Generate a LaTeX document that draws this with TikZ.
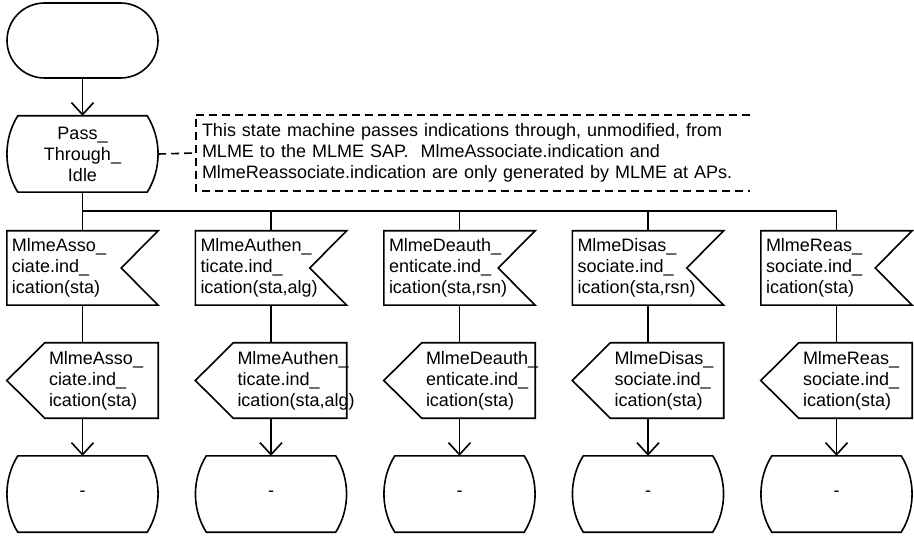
\documentclass[tikz,border=0pt]{standalone}
\usepackage{fontspec}
\setmainfont{Liberation Sans}
\usetikzlibrary{arrows.meta}
\tikzset{
  every picture/.style={
    >={Straight Barb[length=12pt,width=22pt]},   % open SDL arrow tip
  },
  sdl/.style={line width=1.6pt},
  sdltext/.style={font=\fontsize{18}{21}\selectfont},
  startbox/.style={sdl, draw, rectangle, rounded corners=37.5pt,
    minimum width=151pt, minimum height=75pt},
  statebox/.style={sdltext, align=center, inner sep=0pt,
    minimum width=151pt, minimum height=76pt},
  inbox/.style={sdltext, align=left, text width=141pt,
    inner xsep=5pt, inner ysep=0pt, minimum height=74pt},
  outbox/.style={inner sep=0pt, minimum width=151pt, minimum height=75pt},
  outtext/.style={sdltext, align=left, inner sep=0pt, anchor=west},
  notebox/.style={sdltext, align=left, text width=542pt,
    inner xsep=6pt, inner ysep=0pt, minimum height=76pt},
  notedash/.style={sdl, dash pattern=on 8pt off 5pt},
}
% state symbol: flat top and bottom, bulging sides
\newcommand{\stateoutline}[1]{%
  \draw[sdl] ([xshift=11pt]#1.north west) -- ([xshift=-11pt]#1.north east)
    .. controls ([xshift=3.5pt,yshift=-23pt]#1.north east)
    and ([xshift=3.5pt,yshift=23pt]#1.south east) .. ([xshift=-11pt]#1.south east)
    -- ([xshift=11pt]#1.south west)
    .. controls ([xshift=-3.5pt,yshift=23pt]#1.south west)
    and ([xshift=-3.5pt,yshift=-23pt]#1.north west) .. cycle;}

\begin{document}
\begin{tikzpicture}[x=1pt, y=-1pt]
    \useasboundingbox (0,0) rectangle (914,540);

    % Start and idle state
    \node[startbox] (start) at (82.5,40.5) {};
    \node[statebox] (idle) at (82.5,154) {Pass\_\\Through\_\\Idle};
    \stateoutline{idle}
    \draw[sdl, ->] (start) -- (idle);

    % Comment
    \node[notebox] (note) at (473,153) {This state machine passes indications through, unmodified, from\\
      MLME to the MLME SAP.\ \ MlmeAssociate.indication and\\
      MlmeReassociate.indication are only generated by MLME at APs.};
    \draw[notedash] (note.north east) -- (note.north west) -- (note.south west) -- (note.south east);
    \draw[notedash] (idle.east) -- (note.west);

    % Branches: input, output, next state
    \foreach \i/\x/\first/\second/\inlast/\outlast in {
        1/82.5/MlmeAsso\_/ciate.ind\_/{ication(sta)}/{ication(sta)},
        2/271/MlmeAuthen\_/ticate.ind\_/{ication(sta,alg)}/{ication(sta,alg)},
        3/459.5/MlmeDeauth\_/enticate.ind\_/{ication(sta,rsn)}/{ication(sta)},
        4/648/MlmeDisas\_/sociate.ind\_/{ication(sta,rsn)}/{ication(sta)},
        5/836.5/MlmeReas\_/sociate.ind\_/{ication(sta)}/{ication(sta)}} {
        \coordinate (bus\i) at (\x,211);

        \node[inbox] (in\i) at (\x,268) {\first\\\second\\\inlast};
        \draw[sdl] (in\i.north west) -- (in\i.north east) -- ([xshift=-37pt]in\i.east)
            -- (in\i.south east) -- (in\i.south west) -- cycle;

        \node[outbox] (out\i) at (\x,380.5) {};
        \draw[sdl] ([xshift=38pt]out\i.north west) -- (out\i.north east) -- (out\i.south east)
            -- ([xshift=38pt]out\i.south west) -- (out\i.west) -- cycle;
        \node[outtext] (outtxt\i) at ([xshift=42pt]out\i.west) {\first\\\second\\\outlast};

        \node[statebox] (end\i) at (\x,494) {-};
        \stateoutline{end\i}

        \draw[sdl] (bus\i) -- (in\i);
        \draw[sdl] (in\i) -- (out\i);
        \draw[sdl, ->] (out\i) -- (end\i);
    }

    % Bus from idle state
    \draw[sdl] (idle) -- (bus1);
    \draw[sdl] (bus1) -- (bus5);
\end{tikzpicture}
\end{document}
